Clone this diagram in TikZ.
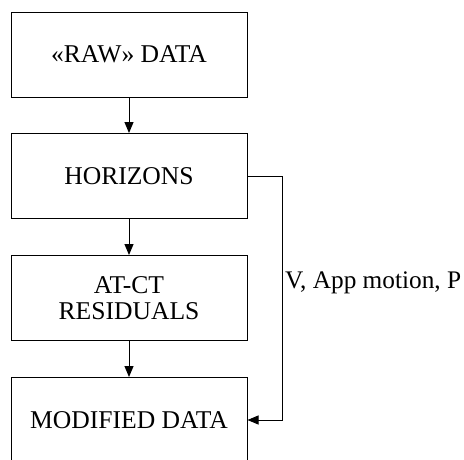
\documentclass[tikz,border=0pt]{standalone}
\usepackage{fontspec}
\setmainfont{Liberation Serif}
\usetikzlibrary{arrows.meta}
\tikzset{
  stage/.style={draw, line width=1pt, minimum width=236pt, minimum height=85pt,
    inner sep=0pt, align=center, font=\fontsize{25.6}{25.5}\selectfont},
  flow/.style={line width=1pt, -{Triangle[length=11pt,width=9pt]}},
  note/.style={font=\fontsize{25.3}{26}\selectfont, inner sep=0pt, anchor=west}
}
\begin{document}
\begin{tikzpicture}[x=1pt, y=-1pt]
  \clip (0,0) rectangle (464,459);
  \fill[white] (0,0) rectangle (464,459);
  \node[stage] (raw) at (129,54.5) {«RAW» DATA};
  \node[stage] (hor) at (129,176) {HORIZONS};
  \node[stage] (res) at (129,298) {AT-CT\\RESIDUALS};
  \node[stage] (mod) at (129,420) {MODIFIED DATA};
  \draw[flow] (raw) -- (hor);
  \draw[flow] (hor) -- (res);
  \draw[flow] (res) -- (mod);
  \draw[flow] (hor.east) -- ++(35,0) coordinate (turn) |- (mod.east);
  \node[note] (lbl) at (285,283) {V, App motion, P};
\end{tikzpicture}
\end{document}
